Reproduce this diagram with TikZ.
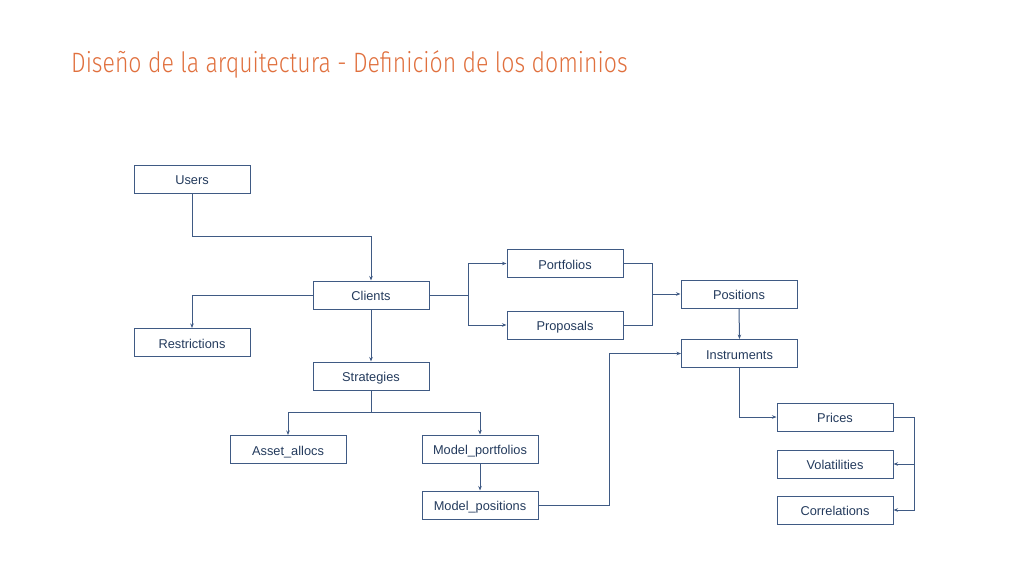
\documentclass[tikz,border=0pt]{standalone}
\usepackage{fontspec}
\setmainfont{Liberation Sans}
\newfontfamily\titlefont{Fira Sans Light}
\usetikzlibrary{arrows.meta}
\definecolor{boxc}{HTML}{3F5A84}
\definecolor{txtc}{HTML}{233A5C}
\definecolor{titc}{HTML}{E0703E}
\tikzset{
  box/.style={draw=boxc, line width=1pt, minimum width=116pt, minimum height=28pt, inner sep=0pt,
    text height=11pt, text depth=0pt, font=\fontsize{12.8}{14}\selectfont, text=txtc},
  conn/.style={draw=boxc, line width=1pt},
  arr/.style={conn, -{Stealth[length=4.5pt,width=3.5pt]}}
}
\begin{document}
\begin{tikzpicture}[x=1pt,y=-1pt]
\useasboundingbox (0,0) rectangle (1024,576);
\node[anchor=base west, text=titc, inner sep=0pt, font=\titlefont\fontsize{28}{30}\selectfont] (title) at (71,72) {\scalebox{0.823}[1]{Diseño de la arquitectura - Definición de los dominios}};
\node[box] (users) at (192,179) {Users};
\node[box] (clients) at (371,295) {Clients};
\node[box] (restr) at (192,342.5) {Restrictions};
\node[box] (strat) at (371,376) {Strategies};
\node[box] (asset) at (288,449.5) {Asset\_allocs};
\node[box] (mport) at (480,449) {Model\_portfolios};
\node[box] (mpos) at (480,505) {Model\_positions};
\node[box] (port) at (565,263.5) {Portfolios};
\node[box] (prop) at (565,325) {Proposals};
\node[box] (posi) at (739,294) {Positions};
\node[box] (instr) at (739.5,353.5) {Instruments};
\node[box] (prices) at (835,417) {Prices};
\node[box] (vol) at (835,464) {Volatilities};
\node[box] (corr) at (835,510) {Correlations};
\coordinate (j1) at (371,236);
\coordinate (j2) at (371,412);
\coordinate (j3) at (468,295);
\coordinate (j4) at (652,294);
\coordinate (j5) at (609,353.5);
\coordinate (j6) at (914,417);
\draw[arr] (users.south) |- (j1) -- (clients.north);
\draw[arr] (clients.west) -| (restr.north);
\draw[arr] (clients.south) -- (strat.north);
\draw[conn] (strat.south) -- (j2);
\draw[arr] (j2) -| (asset.north);
\draw[arr] (j2) -| (mport.north);
\draw[arr] (mport.south) -- (mpos.north);
\draw[arr] (mpos.east) -| (j5) -- (instr.west);
\draw[conn] (clients.east) -- (j3);
\draw[arr] (j3) |- (port.west);
\draw[arr] (j3) |- (prop.west);
\draw[conn] (port.east) -| (j4);
\draw[conn] (prop.east) -| (j4);
\draw[arr] (j4) -- (posi.west);
\draw[arr] (posi.south) -- (instr.north);
\draw[arr] (instr.south) |- (prices.west);
\draw[conn] (prices.east) -- (j6);
\draw[arr] (j6) |- (vol.east);
\draw[arr] (j6) |- (corr.east);
\end{tikzpicture}
\end{document}
